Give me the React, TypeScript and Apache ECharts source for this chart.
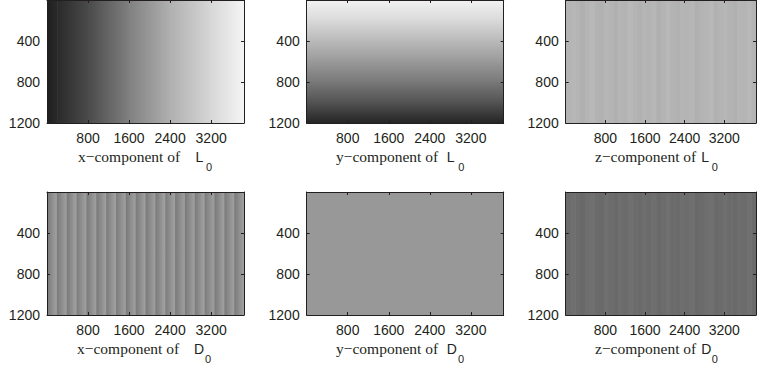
import React, { useEffect, useRef } from "react";
import * as echarts from "echarts";

// ---- data ----
const xTicks = [800, 1600, 2400, 3200];
const yTicks = [400, 800, 1200];
const X_MAX = 3840;
const Y_MAX = 1200;

// x-component of L0 : sampled along x
const L0xPos = [0, 200, 800, 1600, 2400, 3200, 3840];
const L0xVal = [-0.76, -0.67, -0.42, 0.0, 0.38, 0.69, 0.92];

// y-component of L0 : sampled along y
const L0yPos = [0, 200, 400, 600, 800, 1000, 1200];
const L0yVal = [0.9, 0.7, 0.45, 0.2, -0.06, -0.36, -0.72];

// z-component of L0 : 40 column stripes
const L0zVal = [0.40, 0.43, 0.41, 0.38, 0.42, 0.44, 0.40, 0.39, 0.43, 0.41, 0.38, 0.42, 0.40, 0.44, 0.41, 0.39, 0.42, 0.40, 0.43, 0.38,
  0.41, 0.44, 0.40, 0.39, 0.42, 0.41, 0.43, 0.38, 0.40, 0.42, 0.44, 0.39, 0.41, 0.43, 0.40, 0.38, 0.42, 0.41, 0.44, 0.40];

// x-component of D0 : 20 periodic stripes, [start, end] value of each
const D0xStart = [-0.05, -0.04, -0.05, -0.03, -0.04, -0.05, -0.04, -0.03, -0.05, -0.04, -0.04, -0.05, -0.03, -0.04, -0.05, -0.04, -0.03, -0.05, -0.04, -0.04];
const D0xEnd = [0.29, 0.28, 0.30, 0.29, 0.27, 0.29, 0.30, 0.28, 0.29, 0.29, 0.28, 0.30, 0.29, 0.27, 0.29, 0.30, 0.28, 0.29, 0.29, 0.28];

// y-component of D0 : uniform
const D0yVal = 0.19;

// z-component of D0 : 40 column stripes
const D0zVal = [-0.16, -0.13, -0.15, -0.18, -0.14, -0.12, -0.16, -0.17, -0.13, -0.15, -0.18, -0.14, -0.16, -0.12, -0.15, -0.17, -0.14, -0.16, -0.13, -0.18,
  -0.15, -0.12, -0.16, -0.17, -0.14, -0.15, -0.13, -0.18, -0.16, -0.14, -0.12, -0.17, -0.15, -0.13, -0.16, -0.18, -0.14, -0.15, -0.12, -0.16];

const labels = [
  { prefix: "x\u2212component of", sym: "L" },
  { prefix: "y\u2212component of", sym: "L" },
  { prefix: "z\u2212component of", sym: "L" },
  { prefix: "x\u2212component of", sym: "D" },
  { prefix: "y\u2212component of", sym: "D" },
  { prefix: "z\u2212component of", sym: "D" },
];

// ---- band builders: [x0, x1, y0, y1, v0, v1, dir] ----
type Band = number[];
function alongX(pos: number[], val: number[]): Band[] {
  const out: Band[] = [];
  for (let i = 0; i < pos.length - 1; i++) out.push([pos[i], pos[i + 1], 0, Y_MAX, val[i], val[i + 1], 0]);
  return out;
}
function alongY(pos: number[], val: number[]): Band[] {
  const out: Band[] = [];
  for (let i = 0; i < pos.length - 1; i++) out.push([0, X_MAX, pos[i], pos[i + 1], val[i], val[i + 1], 1]);
  return out;
}
function stripes(vals: number[]): Band[] {
  const w = X_MAX / vals.length;
  return vals.map((v, i) => [i * w, (i + 1) * w, 0, Y_MAX, v, v, 0]);
}
function ramps(s: number[], e: number[]): Band[] {
  const w = X_MAX / s.length;
  return s.map((v, i) => [i * w, (i + 1) * w, 0, Y_MAX, v, e[i], 0]);
}

const panelData: Band[][] = [
  alongX(L0xPos, L0xVal),
  alongY(L0yPos, L0yVal),
  stripes(L0zVal),
  ramps(D0xStart, D0xEnd),
  [[0, X_MAX, 0, Y_MAX, D0yVal, D0yVal, 0]],
  stripes(D0zVal),
];

function gray(v: number) {
  const g = Math.max(0, Math.min(255, Math.round((v + 1) * 127.5)));
  return `rgb(${g},${g},${g})`;
}

const INK = "#231f20";
const PANEL_W = 197;
const PANEL_H = 123;
const LEFTS = [47, 306.7, 565.7];
const TOPS = [0, 192];
const LABEL_OFF = [
  [31, 148.6, 159],
  [29.3, 140, 151.6],
  [29.3, 135.5, 146],
  [30, 147, 158],
  [29.3, 140, 151.3],
  [29.3, 135.5, 146],
];

export default function App() {
  const ref = useRef<HTMLDivElement>(null);
  useEffect(() => {
    if (!ref.current) return;
    const chart = echarts.init(ref.current, null, { renderer: "svg" });
    const grid: any[] = [];
    const xAxis: any[] = [];
    const yAxis: any[] = [];
    const series: any[] = [];
    const graphic: any[] = [];
    const axisLine = { show: true, onZero: false, lineStyle: { color: INK, width: 1 } };
    const axisTick = { show: true, inside: true, length: 3, lineStyle: { color: INK, width: 1 } };
    const labelFont = { color: INK, fontSize: 14, fontFamily: "Liberation Sans" };
    for (let i = 0; i < 6; i++) {
      const left = LEFTS[i % 3];
      const top = TOPS[Math.floor(i / 3)];
      grid.push({ left, top, width: PANEL_W, height: PANEL_H, show: false });
      const xBase = { type: "value", gridIndex: i, min: 0, max: X_MAX, interval: 800, splitLine: { show: false }, axisLine, axisTick, z: 5 };
      const yBase = { type: "value", gridIndex: i, min: 0, max: Y_MAX, interval: 400, inverse: true, splitLine: { show: false }, axisLine, axisTick, z: 5 };
      xAxis.push({
        ...xBase,
        position: "bottom",
        axisLabel: { ...labelFont, margin: 8, formatter: (v: number) => (xTicks.includes(v) ? String(v) : "") },
      });
      xAxis.push({ ...xBase, position: "top", axisLabel: { show: false } });
      yAxis.push({
        ...yBase,
        position: "left",
        axisLabel: { ...labelFont, margin: 7, formatter: (v: number) => (yTicks.includes(v) ? String(v) : "") },
      });
      yAxis.push({ ...yBase, position: "right", axisLabel: { show: false } });
      series.push({
        type: "custom",
        coordinateSystem: "cartesian2d",
        xAxisIndex: 2 * i,
        yAxisIndex: 2 * i,
        clip: true,
        z: 1,
        silent: true,
        encode: { x: [0, 1], y: [2, 3] },
        data: panelData[i],
        renderItem: (params: any, api: any) => {
          const p0 = api.coord([api.value(0), api.value(2)]);
          const p1 = api.coord([api.value(1), api.value(3)]);
          const x = Math.min(p0[0], p1[0]);
          const y = Math.min(p0[1], p1[1]);
          const w = Math.abs(p1[0] - p0[0]);
          const h = Math.abs(p1[1] - p0[1]);
          const dir = api.value(6);
          const c0 = gray(api.value(4));
          const c1 = gray(api.value(5));
          const fill =
            c0 === c1
              ? c0
              : new echarts.graphic.LinearGradient(0, 0, dir ? 0 : 1, dir ? 1 : 0, [
                  { offset: 0, color: c0 },
                  { offset: 1, color: c1 },
                ]);
          return {
            type: "rect",
            shape: { x, y, width: w + (dir ? 0 : 0.6), height: h + (dir ? 0.6 : 0) },
            style: { fill, stroke: null },
          };
        },
      });
      const off = LABEL_OFF[i];
      const row = Math.floor(i / 3);
      const yMain = 156.5 + row * 192;
      graphic.push({
        type: "text",
        x: left + off[0],
        y: yMain,
        style: { text: labels[i].prefix, fontSize: 15.5, fontFamily: "Liberation Serif", fill: INK, textAlign: "left", textVerticalAlign: "middle" },
      });
      graphic.push({
        type: "text",
        x: left + off[1],
        y: yMain,
        style: { text: labels[i].sym, fontSize: 14, fontFamily: "Liberation Sans", fill: INK, textAlign: "left", textVerticalAlign: "middle" },
      });
      graphic.push({
        type: "text",
        x: left + off[2],
        y: yMain + 10,
        style: { text: "0", fontSize: 11, fontFamily: "Liberation Sans", fill: INK, textAlign: "left", textVerticalAlign: "middle" },
      });
    }
    chart.setOption({
      animation: false,
      backgroundColor: "#ffffff",
      grid,
      xAxis,
      yAxis,
      series,
      graphic,
    });
    return () => chart.dispose();
  }, []);
  return <div ref={ref} style={{ position: "absolute", left: 0, top: 0, width: 759, height: 368 }} />;
}
